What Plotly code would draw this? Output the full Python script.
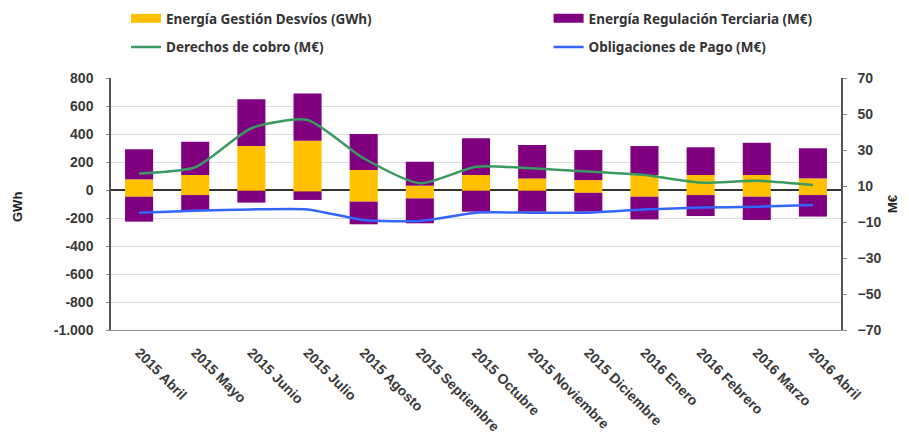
import plotly.graph_objects as go

months = ["2015 Abril", "2015 Mayo", "2015 Junio", "2015 Julio", "2015 Agosto",
          "2015 Septiembre", "2015 Octubre", "2015 Noviembre", "2015 Diciembre",
          "2016 Enero", "2016 Febrero", "2016 Marzo", "2016 Abril"]

# Energía Gestión Desvíos (GWh): upward and downward parts
desvios_subir = [76, 107, 314, 352, 143, 31, 107, 83, 71, 107, 107, 107, 83]
desvios_bajar = [-48, -36, -5, -10, -83, -60, -5, -5, -20, -48, -36, -48, -36]

# Energía Regulación Terciaria: upward and downward parts
terciaria_subir = [215, 238, 334, 338, 257, 171, 262, 238, 215, 207, 198, 231, 215]
terciaria_bajar = [-178, -112, -85, -61, -162, -178, -150, -150, -135, -162, -150, -166, -154]

# Lines (M€)
derechos_cobro = [17.0, 20.4, 42.1, 46.7, 25.4, 11.5, 20.7, 19.8, 18.0, 16.1, 11.9, 12.9, 10.6]
obligaciones_pago = [-4.8, -3.7, -3.0, -3.0, -8.9, -9.4, -4.8, -4.8, -4.8, -3.0, -2.0, -1.5, -0.6]

left_ticks = [800, 600, 400, 200, 0, -200, -400, -600, -800, -1000]
left_ticktext = ["800", "600", "400", "200", "0", "-200", "-400", "-600", "-800", "-1.000"]
right_ticks = [70, 50, 30, 10, -10, -30, -50, -70]

YELLOW = "#FFC000"
PURPLE = "#800080"
GREEN = "#3A9A62"
BLUE = "#3366FF"

tick_font = dict(family="Liberation Sans", size=14, color="#3a3a3a", weight="bold")
title_font = dict(family="Liberation Sans", size=13, color="#222222", weight="bold")

fig = go.Figure()
fig.add_trace(go.Bar(x=months, y=desvios_subir, name="Energía Gestión Desvíos (GWh)",
                     marker=dict(color=YELLOW, line=dict(width=0)), showlegend=False,
                     legendgroup="desv"))
fig.add_trace(go.Bar(x=months, y=desvios_bajar, name="Energía Gestión Desvíos (GWh)",
                     marker=dict(color=YELLOW, line=dict(width=0)), showlegend=False,
                     legendgroup="desv"))
fig.add_trace(go.Bar(x=months, y=terciaria_subir, name="Energía Regulación Terciaria (M€)",
                     marker=dict(color=PURPLE, line=dict(width=0)), showlegend=False,
                     legendgroup="terc"))
fig.add_trace(go.Bar(x=months, y=terciaria_bajar, name="Energía Regulación Terciaria (M€)",
                     marker=dict(color=PURPLE, line=dict(width=0)), showlegend=False,
                     legendgroup="terc"))
# legend keys for the bar series (wide rectangles like the original)
fig.add_trace(go.Scatter(x=[None], y=[None], mode="lines", name="Energía Gestión Desvíos (GWh)",
                         line=dict(color=YELLOW, width=9), legendgroup="desv", legend="legend"))
fig.add_trace(go.Scatter(x=[None], y=[None], mode="lines", name="Energía Regulación Terciaria (M€)",
                         line=dict(color=PURPLE, width=9), legendgroup="terc", legend="legend2"))
fig.add_trace(go.Scatter(x=months, y=derechos_cobro, name="Derechos de cobro (M€)",
                         mode="lines", line=dict(color=GREEN, width=2.5, shape="spline", smoothing=0.6),
                         yaxis="y2", legend="legend3"))
fig.add_trace(go.Scatter(x=months, y=obligaciones_pago, name="Obligaciones de Pago (M€)",
                         mode="lines", line=dict(color=BLUE, width=2.5, shape="spline", smoothing=0.6),
                         yaxis="y2", legend="legend4"))

legend_common = dict(orientation="h", xref="container", yref="container", xanchor="left",
                     yanchor="middle",
                     font=dict(family="Noto Sans", size=13.5, color="#333333", weight="bold"),
                     bgcolor="rgba(0,0,0,0)", itemwidth=30, tracegroupgap=0)

col1, col2 = 0.131, 0.600
row1, row2 = 0.976, 0.911

fig.update_layout(
    width=901, height=440,
    margin=dict(l=103, r=68, t=70, b=118, autoexpand=False),
    paper_bgcolor="white", plot_bgcolor="white",
    barmode="relative", bargap=0.5,
    showlegend=True,
    legend=dict(x=col1, y=row1, **legend_common),
    legend2=dict(x=col2, y=row1, **legend_common),
    legend3=dict(x=col1, y=row2, **legend_common),
    legend4=dict(x=col2, y=row2, **legend_common),
    xaxis=dict(tickangle=45, tickfont=tick_font, showgrid=False, showline=True,
               linecolor="#8c8c8c", linewidth=1, ticks="", ticklabelstandoff=8,
               automargin=False),
    yaxis=dict(range=[-1000, 800], tickvals=left_ticks, ticktext=left_ticktext,
               tickfont=tick_font, showgrid=True, gridcolor="#d9dede", gridwidth=1,
               zeroline=True, zerolinecolor="#333333", zerolinewidth=1.5,
               showline=True, linecolor="#555555", linewidth=1.5, automargin=False,
               ticks="outside", ticklen=3, tickcolor="#888888", ticklabelstandoff=10),
    yaxis2=dict(range=[-70, 70], tickvals=right_ticks, overlaying="y", side="right",
                tickfont=tick_font, showgrid=False, zeroline=False, automargin=False,
                showline=True, linecolor="#555555", linewidth=1.5,
                ticks="outside", ticklen=4, tickcolor="#888888", ticklabelstandoff=8),
    annotations=[
        dict(text="GWh", xref="paper", yref="paper", x=0, y=0.5, xshift=-94, yshift=-3,
             textangle=-90, showarrow=False, font=title_font, xanchor="center", yanchor="middle"),
        dict(text="M€", xref="paper", yref="paper", x=1, y=0.5, xshift=51, yshift=0,
             textangle=-90, showarrow=False, font=title_font, xanchor="center", yanchor="middle"),
    ],
)

fig.write_html("out.html")
